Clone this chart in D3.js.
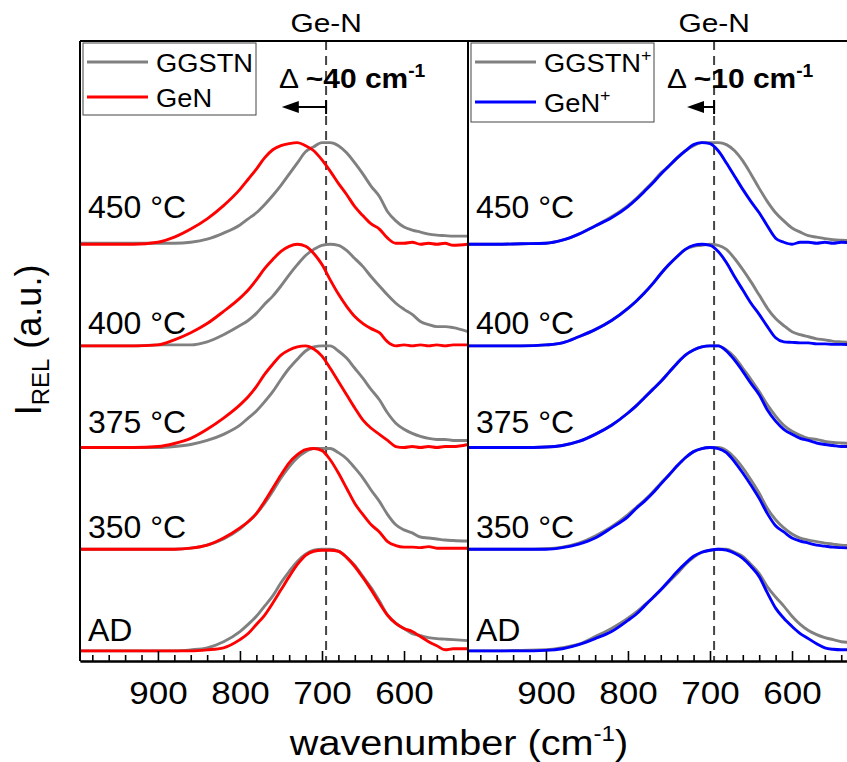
<!DOCTYPE html>
<html>
<head>
<meta charset="utf-8">
<script src="https://cdn.jsdelivr.net/npm/d3@7"></script>
<style>
  body { margin: 0; background: #fff; }
  svg { display: block; font-family: Arial, "Liberation Sans", Helvetica, sans-serif; }
</style>
</head>
<body>
<svg id="chart" width="847" height="762"></svg>
<script>
// shared wavenumber grid (cm-1)
var wavenumber = [995, 960, 930, 900,  880, 860, 840, 820,  800, 790, 780, 770,  760, 750, 740, 730,
                  720, 710, 700, 690,  680, 670, 660, 650,  640, 630, 620, 610,  600, 590, 580, 570,
                  560, 550, 540, 522];

var temperatures = ["AD", "350 °C", "375 °C", "400 °C", "450 °C"];

// left panel, GGSTN (grey), normalised intensity
var ggstnAD  = [0, 0, 0, 0,  0, 0.01, 0.03, 0.09,  0.19, 0.26, 0.34, 0.44,  0.54, 0.67, 0.78, 0.88,  0.95, 0.99, 1.0, 1.0,  0.98, 0.92, 0.84, 0.73,  0.62, 0.49, 0.35, 0.27,  0.22, 0.17, 0.15, 0.13,  0.12, 0.115, 0.11, 0.10];
var ggstn350 = [0, 0, 0, 0,  0, 0.01, 0.04, 0.10,  0.20, 0.27, 0.35, 0.45,  0.57, 0.70, 0.81, 0.90,  0.96, 0.99, 0.99, 0.99,  0.95, 0.89, 0.80, 0.70,  0.58, 0.47, 0.34, 0.24,  0.19, 0.16, 0.12, 0.11,  0.10, 0.09, 0.085, 0.08];
var ggstn375 = [0, 0, 0, 0,  0.01, 0.03, 0.07, 0.13,  0.22, 0.29, 0.36, 0.45,  0.55, 0.67, 0.78, 0.87,  0.95, 0.99, 1.0, 1.0,  0.95, 0.88, 0.78, 0.68,  0.57, 0.47, 0.34, 0.24,  0.18, 0.14, 0.11, 0.09,  0.08, 0.08, 0.07, 0.07];
var ggstn400 = [0, 0, 0, 0.01,  0.01, 0.01, 0.04, 0.11,  0.20, 0.25, 0.32, 0.41,  0.49, 0.59, 0.70, 0.80,  0.89, 0.95, 0.99, 1.0,  0.99, 0.94, 0.86, 0.78,  0.68, 0.59, 0.50, 0.42,  0.36, 0.31, 0.24, 0.21,  0.19, 0.19, 0.18, 0.14];
var ggstn450 = [0.01, 0.01, 0.01, 0.01,  0.01, 0.02, 0.05, 0.11,  0.19, 0.25, 0.31, 0.39,  0.48, 0.58, 0.69, 0.80,  0.91, 0.96, 1.0, 1.0,  0.97, 0.90, 0.80, 0.69,  0.57, 0.47, 0.32, 0.23,  0.17, 0.14, 0.12, 0.10,  0.09, 0.085, 0.08, 0.08];

// left panel, GeN (red)
var genAD  = [0, 0, 0, 0,  0, 0, 0.01, 0.03,  0.11, 0.17, 0.26, 0.35,  0.47, 0.60, 0.73, 0.85,  0.94, 0.98, 0.99, 0.99,  0.98, 0.92, 0.83, 0.72,  0.60, 0.47, 0.35, 0.27,  0.22, 0.19, 0.14, 0.09,  0.05, 0.01, 0.02, 0.02];
var gen350 = [0, 0, 0, 0,  0, 0.01, 0.04, 0.11,  0.21, 0.27, 0.35, 0.47,  0.60, 0.73, 0.85, 0.93,  0.98, 0.99, 0.97, 0.88,  0.75, 0.60, 0.45, 0.34,  0.24, 0.17, 0.075, 0.035,  0.02, 0.02, 0.015, 0.025,  0.01, 0.01, 0.01, 0.01];
var gen375 = [0, 0, 0, 0.01,  0.04, 0.09, 0.18, 0.29,  0.42, 0.50, 0.60, 0.72,  0.82, 0.91, 0.96, 0.99,  1.0, 0.97, 0.90, 0.78,  0.65, 0.52, 0.39, 0.27,  0.19, 0.13, 0.07, 0.01,  0.0, 0.01, 0.0, 0.01,  0.0, 0.01, 0.01, 0.03];
var gen400 = [0, 0, 0, 0.01,  0.06, 0.13, 0.22, 0.34,  0.47, 0.55, 0.65, 0.76,  0.85, 0.93, 0.98, 1.0,  0.98, 0.91, 0.80, 0.65,  0.51, 0.39, 0.29, 0.22,  0.17, 0.13, 0.04, 0.0,  0.01, 0.0, 0.01, 0.0,  0.01, 0.0, 0.01, 0.01];
var gen450 = [0, 0, 0, 0.02,  0.07, 0.15, 0.25, 0.38,  0.54, 0.64, 0.74, 0.85,  0.93, 0.97, 0.99, 1.0,  0.97, 0.92, 0.83, 0.72,  0.60, 0.49, 0.37, 0.28,  0.20, 0.15, 0.06, 0.01,  0.01, 0.02, 0.0, 0.01,  0.0, 0.01, -0.01, 0.0];

// right panel, GGSTN+ (grey)
var ggstnpAD  = [0, 0, 0.005, 0.01,  0.03, 0.065, 0.14, 0.22,  0.32, 0.38, 0.45, 0.52,  0.60, 0.68, 0.76, 0.85,  0.92, 0.97, 0.99, 1.0,  1.0, 0.97, 0.93, 0.85,  0.76, 0.63, 0.53, 0.44,  0.34, 0.26, 0.20, 0.16,  0.13, 0.11, 0.09, 0.08];
var ggstnp350 = [0, 0, 0, 0.005,  0.02, 0.06, 0.13, 0.22,  0.34, 0.41, 0.48, 0.56,  0.65, 0.73, 0.82, 0.90,  0.96, 0.99, 1.0, 1.0,  0.97, 0.90, 0.80, 0.68,  0.55, 0.40, 0.29, 0.21,  0.15, 0.11, 0.09, 0.075,  0.06, 0.05, 0.04, 0.035];
var ggstnp375 = [0, 0, 0, 0.005,  0.02, 0.06, 0.13, 0.22,  0.34, 0.41, 0.49, 0.57,  0.65, 0.74, 0.83, 0.91,  0.96, 0.99, 1.0, 1.0,  0.96, 0.89, 0.78, 0.67,  0.55, 0.42, 0.31, 0.22,  0.16, 0.12, 0.09, 0.08,  0.06, 0.05, 0.045, 0.04];
var ggstnp400 = [0, 0, 0, 0.01,  0.03, 0.09, 0.16, 0.25,  0.37, 0.44, 0.52, 0.61,  0.71, 0.80, 0.88, 0.95,  0.98, 0.99, 1.0, 0.99,  0.95, 0.86, 0.75, 0.63,  0.50, 0.37, 0.27, 0.20,  0.14, 0.11, 0.09, 0.07,  0.06, 0.045, 0.04, 0.035];
var ggstnp450 = [0, 0, 0.005, 0.01,  0.04, 0.10, 0.18, 0.27,  0.38, 0.45, 0.53, 0.61,  0.70, 0.77, 0.85, 0.92,  0.97, 1.0, 1.0, 1.0,  0.98, 0.92, 0.82, 0.69,  0.55, 0.42, 0.31, 0.23,  0.16, 0.12, 0.085, 0.07,  0.055, 0.045, 0.04, 0.035];

// right panel, GeN+ (blue)
var genpAD  = [0, 0, 0, 0.005,  0.02, 0.06, 0.12, 0.19,  0.30, 0.36, 0.44, 0.52,  0.60, 0.69, 0.78, 0.86,  0.93, 0.97, 0.99, 1.0,  0.99, 0.96, 0.91, 0.83,  0.73, 0.57, 0.42, 0.32,  0.24, 0.17, 0.12, 0.07,  0.03, 0.015, 0.01, 0.01];
var genp350 = [0, 0, 0, 0,  0.015, 0.05, 0.11, 0.21,  0.32, 0.40, 0.47, 0.55,  0.64, 0.73, 0.82, 0.90,  0.96, 0.99, 1.0, 0.99,  0.95, 0.86, 0.75, 0.63,  0.50, 0.35, 0.23, 0.17,  0.11, 0.08, 0.06, 0.04,  0.03, 0.02, 0.015, 0.01];
var genp375 = [0, 0, 0, 0.005,  0.02, 0.06, 0.13, 0.22,  0.34, 0.41, 0.49, 0.57,  0.65, 0.74, 0.83, 0.91,  0.96, 0.99, 1.0, 1.0,  0.95, 0.86, 0.75, 0.63,  0.52, 0.37, 0.26, 0.18,  0.13, 0.09, 0.07, 0.045,  0.03, 0.02, 0.01, 0.01];
var genp400 = [0, 0, 0, 0.01,  0.03, 0.09, 0.16, 0.25,  0.37, 0.44, 0.52, 0.61,  0.71, 0.80, 0.88, 0.95,  0.99, 1.0, 0.99, 0.93,  0.82, 0.68, 0.55, 0.42,  0.31, 0.19, 0.08, 0.04,  0.035, 0.03, 0.03, 0.02,  0.02, 0.015, 0.015, 0.01];
var genp450 = [0, 0, 0.005, 0.01,  0.04, 0.10, 0.18, 0.26,  0.37, 0.44, 0.52, 0.60,  0.69, 0.77, 0.85, 0.92,  0.98, 1.0, 0.99, 0.92,  0.80, 0.67, 0.54, 0.42,  0.31, 0.18, 0.06, 0.02,  0.0, 0.02, 0.02, 0.01,  0.02, 0.01, 0.02, 0.01];

var geNPosition = 695;          // dashed reference line
var shiftLabels = ["40", "10"];
var shiftArrowEnd = [749, 728];

// layout
var svg = d3.select("#chart"),
    width = 847,
    panelW = 388,
    plotTop = 41,
    plotBottom = 661,
    colorRef = "#808080";

// lift of each temperature label above its baseline, in data units
var labelLift = [0.1, 0.11, 0.14, 0.12, 0.26];

var y = d3.scaleLinear().domain([-0.1, 6]).range([plotBottom, plotTop]);

// text in the source figure is slightly wider than the font, stretch it a bit
function place(sel, x, y, sx) {
  return sel.attr("x", 0).attr("y", 0)
    .attr("transform", "translate(" + x + "," + y + ") scale(" + sx + ",1)");
}

var panels = [
  { x0: 80,  ref: [ggstnAD, ggstn350, ggstn375, ggstn400, ggstn450],
    sample: [genAD, gen350, gen375, gen400, gen450], color: "#ff0000",
    names: ["GGSTN", "GeN"], plus: false },
  { x0: 468, ref: [ggstnpAD, ggstnp350, ggstnp375, ggstnp400, ggstnp450],
    sample: [genpAD, genp350, genp375, genp400, genp450], color: "#0000ff",
    names: ["GGSTN", "GeN"], plus: true }
];

var defs = svg.append("defs");

panels.forEach(function(p, pi) {
  var x = d3.scaleLinear().domain([995, 522]).range([p.x0, p.x0 + panelW]);
  var g = svg.append("g");

  defs.append("clipPath").attr("id", "clip" + pi)
    .append("rect")
    .attr("x", p.x0).attr("y", plotTop)
    .attr("width", panelW).attr("height", plotBottom - plotTop);

  // dashed Ge-N marker
  g.append("line")
    .attr("x1", x(geNPosition)).attr("x2", x(geNPosition))
    .attr("y1", plotTop).attr("y2", plotBottom)
    .attr("stroke", "#444").attr("stroke-width", 2)
    .attr("stroke-dasharray", "9,6");

  var curves = g.append("g").attr("clip-path", "url(#clip" + pi + ")");

  function drawSet(set, color) {
    set.forEach(function(vals, k) {
      var line = d3.line()
        .x(function(d, i) { return x(wavenumber[i]); })
        .y(function(d) { return y(d + k); })
        .curve(d3.curveMonotoneX);
      curves.append("path")
        .datum(vals)
        .attr("d", line)
        .attr("fill", "none")
        .attr("stroke", color)
        .attr("stroke-width", 2.9)
        .attr("stroke-linejoin", "round");
    });
  }
  drawSet(p.ref, colorRef);
  drawSet(p.sample, p.color);

  // temperature labels
  temperatures.forEach(function(t, k) {
    g.append("text")
      .attr("x", p.x0 + 8)
      .attr("y", y(k + labelLift[k]))
      .attr("font-size", 32)
      .attr("fill", "#000")
      .text(t);
  });

  // bottom axis, major and minor ticks pointing inward
  var major = d3.axisBottom(x).tickValues([900, 800, 700, 600])
    .tickSize(-10).tickSizeOuter(0).tickPadding(21);
  var minor = d3.axisBottom(x)
    .tickValues(d3.range(540, 1000, 20).filter(function(v) { return v % 100 !== 0; }))
    .tickSize(-6).tickSizeOuter(0).tickFormat("");

  var ax = g.append("g").attr("transform", "translate(0," + plotBottom + ")");
  ax.call(minor);
  ax.append("g").call(major);
  ax.selectAll("path.domain").attr("stroke", "#000").attr("stroke-width", 2);
  ax.selectAll(".tick line").attr("stroke", "#000").attr("stroke-width", 1.6);
  ax.selectAll(".tick text").attr("font-size", 31).attr("fill", "#000")
    .attr("font-family", "Arial, 'Liberation Sans', sans-serif")
    .attr("transform", "scale(1.13,1)");

  // Ge-N label above frame
  place(g.append("text"), x(geNPosition), 32, 1.15)
    .attr("text-anchor", "middle")
    .attr("font-size", 26)
    .text("Ge-N");

  // shift annotation
  var ann = place(g.append("text"), x(geNPosition) - 47, 88, 1.07)
    .attr("font-size", 28);
  ann.append("tspan").text("Δ ");
  ann.append("tspan").attr("font-weight", "bold").text("~" + shiftLabels[pi] + " cm");
  ann.append("tspan").attr("font-weight", "bold").attr("font-size", 18).attr("dy", -11).text("-1");

  var ay = 107, ax0 = x(geNPosition), ax1 = x(shiftArrowEnd[pi]);
  g.append("line").attr("x1", ax0).attr("x2", ax1 + 12).attr("y1", ay).attr("y2", ay)
    .attr("stroke", "#000").attr("stroke-width", 2);
  g.append("line").attr("x1", ax0).attr("x2", ax0).attr("y1", ay - 7).attr("y2", ay + 7)
    .attr("stroke", "#000").attr("stroke-width", 2);
  g.append("path")
    .attr("d", "M" + ax1 + "," + ay + "L" + (ax1 + 17) + "," + (ay - 6) + "L" + (ax1 + 17) + "," + (ay + 6) + "Z")
    .attr("fill", "#000");

  // legend
  var lg = g.append("g").attr("transform", "translate(" + (p.x0 + 3) + ",43)");
  var lh = p.plus ? 79 : 72;
  lg.append("rect").attr("width", p.plus ? 183 : 173).attr("height", lh)
    .attr("fill", "#fff").attr("stroke", "#444").attr("stroke-width", 1);
  var rows = [{ name: p.names[0], color: colorRef, ly: 19 },
              { name: p.names[1], color: p.color, ly: p.plus ? 59 : 54 }];
  rows.forEach(function(r) {
    lg.append("line").attr("x1", 4).attr("x2", 65).attr("y1", r.ly).attr("y2", r.ly)
      .attr("stroke", r.color).attr("stroke-width", 3);
    var t = place(lg.append("text"), 73, r.ly + 10, 1.05)
      .attr("font-size", 26).text(r.name);
    if (p.plus) t.append("tspan").attr("font-size", 17).attr("dy", -11).text("+");
  });
});

// frame lines
var frame = svg.append("g").attr("stroke", "#000").attr("stroke-width", 2);
frame.append("line").attr("x1", 80).attr("x2", width).attr("y1", plotTop).attr("y2", plotTop);
frame.append("line").attr("x1", 80).attr("x2", 80).attr("y1", plotTop).attr("y2", plotBottom);
frame.append("line").attr("x1", 468).attr("x2", 468).attr("y1", plotTop).attr("y2", plotBottom);

// axis titles
var xt = place(svg.append("text"), 459, 755, 1.1)
  .attr("text-anchor", "middle")
  .attr("font-size", 36);
xt.append("tspan").text("wavenumber (cm");
xt.append("tspan").attr("font-size", 22).attr("dy", -14).text("-1");
xt.append("tspan").attr("dy", 14).text(")");

var yt = svg.append("text")
  .attr("transform", "translate(41,340) rotate(-90)")
  .attr("text-anchor", "middle")
  .attr("font-size", 36);
yt.append("tspan").text("I");
yt.append("tspan").attr("font-size", 24).attr("dy", 8).text("REL");
yt.append("tspan").attr("dy", -8).text(" (a.u.)");
</script>
</body>
</html>
